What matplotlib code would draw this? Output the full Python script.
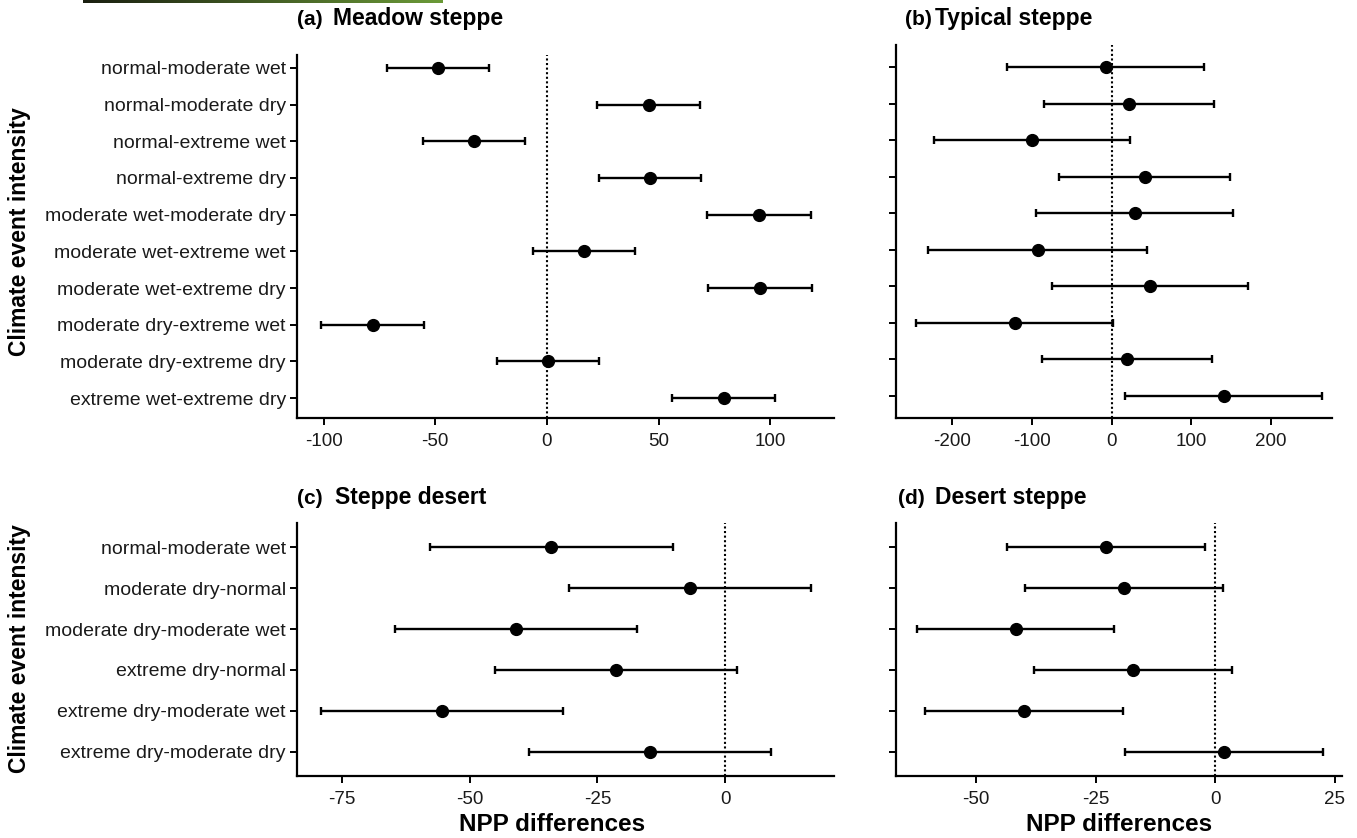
import matplotlib
matplotlib.use("Agg")
import matplotlib.pyplot as plt
import numpy as np

plt.rcParams['font.family'] = ['Liberation Sans', 'DejaVu Sans']

# (a) Meadow steppe
labels_a = ['normal-moderate wet', 'normal-moderate dry', 'normal-extreme wet',
            'normal-extreme dry', 'moderate wet-moderate dry', 'moderate wet-extreme wet',
            'moderate wet-extreme dry', 'moderate dry-extreme wet',
            'moderate dry-extreme dry', 'extreme wet-extreme dry']
diff_a = [-48.9, 45.5, -32.8, 46.2, 94.9, 16.5, 95.4, -78.1, 0.5, 79.1]
err_a = [22.9, 22.9, 22.9, 22.7, 23.1, 22.9, 23.1, 22.9, 22.9, 22.9]

# (b) Typical steppe
diff_b = [-7.5, 22.0, -100.2, 41.4, 28.9, -93.1, 48.3, -122.0, 19.2, 140.8]
err_b = [123.4, 107.0, 123.6, 107.0, 124.0, 138.0, 123.6, 123.6, 107.0, 123.6]

# (c) Steppe desert
labels_c = ['normal-moderate wet', 'moderate dry-normal', 'moderate dry-moderate wet',
            'extreme dry-normal', 'extreme dry-moderate wet', 'extreme dry-moderate dry']
diff_c = [-34.0, -6.9, -40.9, -21.4, -55.4, -14.7]
err_c = [23.7, 23.7, 23.7, 23.7, 23.7, 23.7]

# (d) Desert steppe
diff_d = [-22.9, -19.1, -41.8, -17.2, -40.0, 1.8]
err_d = [20.7, 20.7, 20.7, 20.7, 20.7, 20.7]

W, H = 1357, 838
fig = plt.figure(figsize=(W / 100, H / 100), dpi=100)


def box(l, r, t, b):
    return [l / W, 1 - b / H, (r - l) / W, (b - t) / H]


def panel(rect, vals, errs, labels, xlim, ylim, xticks, show_labels):
    ax = fig.add_axes(rect)
    y = np.arange(len(vals))
    ax.axvline(0, color='black', ls=(0, (1, 1.2)), lw=1.5, zorder=1)
    ax.errorbar(vals, y, xerr=errs, fmt='o', color='black', ms=8.5, elinewidth=1.7,
                capsize=3, capthick=1.7, zorder=3)
    ax.set_xlim(*xlim)
    ax.set_ylim(*ylim)
    ax.set_yticks(y)
    if show_labels:
        ax.set_yticklabels(labels, fontsize=14, color='#1a1a1a')
    else:
        ax.set_yticklabels([])
    ax.set_xticks(xticks)
    ax.set_xticklabels([str(t) for t in xticks], fontsize=13.5, color='#1a1a1a')
    for s in ['top', 'right']:
        ax.spines[s].set_visible(False)
    for s in ['left', 'bottom']:
        ax.spines[s].set_linewidth(1.6)
    ax.tick_params(axis='both', length=5, width=1.4, direction='out')
    ax.tick_params(axis='y', pad=3)
    ax.tick_params(axis='x', pad=6)
    return ax


panel(box(297, 834, 55, 418), diff_a, err_a, labels_a, (-111.9, 128.5), (9.54, -0.35),
      [-100, -50, 0, 50, 100], True)
panel(box(896, 1332, 45, 418), diff_b, err_b, labels_a, (-271, 277), (9.6, -0.6),
      [-200, -100, 0, 100, 200], False)
panel(box(297, 834, 523, 776), diff_c, err_c, labels_c, (-83.8, 21.3), (5.59, -0.59),
      [-75, -50, -25, 0], True)
panel(box(896, 1342, 523, 776), diff_d, err_d, labels_c, (-66.8, 26.5), (5.59, -0.59),
      [-50, -25, 0, 25], False)

# panel titles: letter tag plus bold name
titles = [('(a)', 'Meadow steppe', 297, 333, 25),
          ('(b)', 'Typical steppe', 905, 935, 25),
          ('(c)', 'Steppe desert', 297, 335, 504),
          ('(d)', 'Desert steppe', 898, 935, 504)]
for tag, name, xt, xn, yb in titles:
    fig.text(xt / W, 1 - yb / H, tag, fontsize=15, fontweight='bold',
             ha='left', va='baseline')
    fig.text(xn / W, 1 - yb / H, name, fontsize=16.5, fontweight='bold',
             ha='left', va='baseline')

# axis titles
fig.text(20 / W, 1 - 232 / H, 'Climate event intensity', fontsize=16.5, fontweight='bold',
         rotation=90, ha='center', va='center')
fig.text(20 / W, 1 - 649 / H, 'Climate event intensity', fontsize=16.5, fontweight='bold',
         rotation=90, ha='center', va='center')
fig.text(552 / W, 1 - 824 / H, 'NPP differences', fontsize=17.5, fontweight='bold',
         ha='center', va='center')
fig.text(1119 / W, 1 - 824 / H, 'NPP differences', fontsize=17.5, fontweight='bold',
         ha='center', va='center')

# thin dark-to-green strip at the very top left
strip = fig.add_axes([83 / W, 1 - 3 / H, 360 / W, 3 / H])
strip.imshow(np.linspace(0, 1, 256)[None, :], aspect='auto',
             cmap=matplotlib.colors.LinearSegmentedColormap.from_list('g', ['#1a1f10', '#6b9a38']))
strip.axis('off')

fig.savefig('out.png', dpi=100)
